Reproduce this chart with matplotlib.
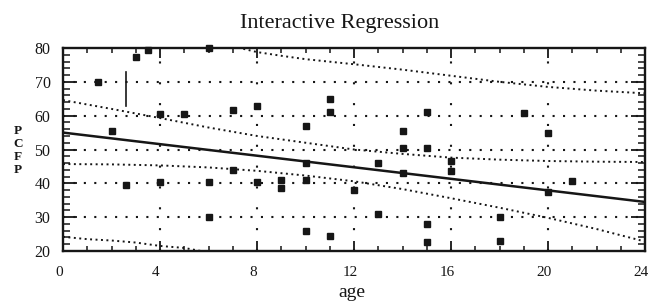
import matplotlib
matplotlib.use("Agg")
import matplotlib.pyplot as plt
from matplotlib.ticker import MultipleLocator
import matplotlib.transforms as mtransforms

# ---- data ----
age = [1.45, 2.0, 2.6, 3.0, 3.5, 4.0, 4.0, 5.0, 6.0, 6.0, 6.0, 7.0, 7.0, 8.0, 8.0,
       9.0, 9.0, 10.0, 10.0, 10.0, 10.0, 11.0, 11.0, 11.0, 12.0, 13.0, 13.0, 14.0,
       14.0, 14.0, 15.0, 15.0, 15.0, 15.0, 16.0, 16.0, 18.0, 18.0, 19.0, 20.0, 20.0, 21.0]
pcfp = [70.0, 55.5, 39.5, 77.3, 79.5, 60.5, 40.5, 60.5, 80.0, 40.5, 30.0, 61.7, 44.0, 63.0, 40.5,
        41.0, 38.5, 57.0, 46.0, 41.0, 26.0, 65.0, 61.0, 24.5, 38.0, 46.0, 31.0, 55.5,
        50.5, 43.0, 61.0, 50.5, 28.0, 22.8, 46.5, 43.5, 30.0, 23.0, 60.8, 55.0, 37.5, 40.8]

fit_x = [0, 24]
fit_y = [55.0, 34.5]

ci_up_x = [0, 2, 4, 6, 8, 10, 12, 14, 16, 18, 20, 22, 24]
ci_up_y = [64.6, 62.0, 59.3, 56.5, 54.0, 52.0, 50.0, 48.7, 47.6, 47.0, 46.6, 46.4, 46.3]
ci_lo_x = [0, 2, 4, 6, 8, 10, 12, 14, 16, 18, 20, 22, 24]
ci_lo_y = [45.7, 45.6, 45.3, 44.7, 43.7, 42.3, 40.6, 38.3, 35.6, 32.8, 29.8, 26.5, 22.8]

pi_up_x = [7.0, 8.0, 9.0, 10.0, 12.0, 14.0, 16.0, 18.0, 20.0, 22.0, 24.0]
pi_up_y = [80.5, 78.8, 77.7, 76.7, 75.2, 73.6, 71.8, 70.0, 68.5, 67.4, 66.6]
pi_lo_x = [0.0, 1.0, 2.0, 3.0, 4.0, 5.0, 6.0]
pi_lo_y = [24.2, 23.5, 23.1, 22.5, 21.5, 20.9, 19.6]

seg_x = [2.6, 2.6]
seg_y = [63.0, 73.0]

xticks = [0, 4, 8, 12, 16, 20, 24]
yticks = [20, 30, 40, 50, 60, 70, 80]

INK = "#161616"

fig = plt.figure(figsize=(6.56, 3.03), dpi=100)
ax = fig.add_axes([63 / 656, 1 - 251 / 303, (645 - 63) / 656, (251 - 48) / 303])
ax.set_xlim(0, 24)
ax.set_ylim(20, 80)

# grid: dotted
for y in yticks[1:-1]:
    ax.axhline(y, color=INK, lw=1.5, ls=(0, (1, 4)), dash_capstyle="butt", zorder=1)
for x in xticks[1:-1]:
    ax.axvline(x, color=INK, lw=1.5, ls=(0, (1, 9)), dash_capstyle="butt", zorder=1)

# bands
band_kw = dict(color=INK, lw=1.4, ls=(0, (1, 1.8)), dash_capstyle="butt", zorder=2)
ax.plot(ci_up_x, ci_up_y, **band_kw)
ax.plot(ci_lo_x, ci_lo_y, **band_kw)
ax.plot(pi_up_x, pi_up_y, **band_kw)
ax.plot(pi_lo_x, pi_lo_y, **band_kw)

# regression line
ax.plot(fit_x, fit_y, color=INK, lw=1.8, zorder=3)
ax.plot(seg_x, seg_y, color=INK, lw=1.2, zorder=3)

# points
ax.plot(age, pcfp, "s", ms=4, color=INK, mec=INK, zorder=4, clip_on=False)

# frame and ticks
for s in ax.spines.values():
    s.set_linewidth(1.7)
    s.set_color(INK)
ax.set_xticks(xticks)
ax.set_yticks(yticks)
ax.xaxis.set_minor_locator(MultipleLocator(1))
ax.yaxis.set_minor_locator(MultipleLocator(2))
ax.tick_params(axis="x", which="major", direction="in", length=7, width=1.3,
               top=True, bottom=True, pad=11, colors=INK)
ax.tick_params(axis="x", which="minor", direction="in", length=3.5, width=1.1,
               top=True, bottom=True, colors=INK)
ax.tick_params(axis="y", which="major", direction="in", length=10, width=1.3,
               left=True, right=True, pad=9, colors=INK)
ax.tick_params(axis="y", which="minor", direction="in", length=5, width=1.1,
               left=True, right=True, colors=INK)
ax.set_xticklabels([str(v) for v in xticks], family="Liberation Serif", fontsize=11)
ax.set_yticklabels([str(v) for v in yticks], family="Liberation Serif", fontsize=11.5)
off = mtransforms.ScaledTranslation(-4 / 100, 0, fig.dpi_scale_trans)
for lab in ax.get_xticklabels():
    lab.set_transform(lab.get_transform() + off)

# texts
fig.text(340 / 656, 1 - 28 / 303, "Interactive Regression", ha="center", va="baseline",
         family="Liberation Serif", fontsize=16, color=INK)
fig.text(352 / 656, 1 - 297 / 303, "age", ha="center", va="baseline",
         family="Liberation Serif", fontsize=14, color=INK)
for i, ch in enumerate("PCFP"):
    fig.text(18 / 656, 1 - (131 + 13 * i) / 303, ch, ha="center", va="center",
             family="Liberation Serif", fontsize=9.5, fontweight="bold", color=INK)

fig.savefig("out.png", dpi=100, facecolor="white")
